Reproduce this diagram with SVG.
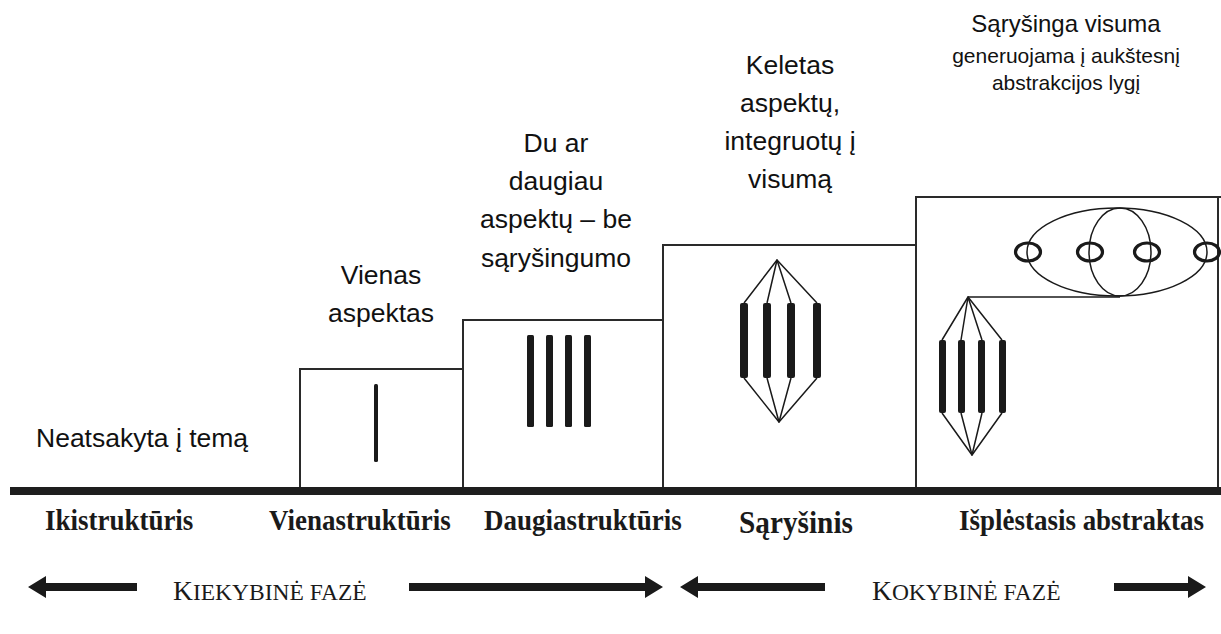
<svg xmlns="http://www.w3.org/2000/svg" width="1221" height="634" viewBox="0 0 1221 634">
  <style>
    .box { fill: #fff; stroke: #2a2a2a; stroke-width: 2; }
    .bar { fill: #1a1a1a; }
    .thin { fill: none; stroke: #1a1a1a; stroke-width: 1.5; stroke-linejoin: round; }
    .oval { fill: none; stroke: #1a1a1a; stroke-width: 3.2; }
    .lbl { font-family: "Liberation Sans", Arial, sans-serif; font-size: 26.5px; fill: #111; text-anchor: middle; }
    .lbl-s { font-family: "Liberation Sans", Arial, sans-serif; font-size: 21px; fill: #111; text-anchor: middle; }
    .stage { font-family: "Liberation Serif", "Times New Roman", serif; font-weight: bold; font-size: 29px; fill: #1a1a1a; }
    .phase { font-family: "Liberation Serif", "Times New Roman", serif; font-size: 23.5px; fill: #1a1a1a; }
    .arrow { fill: #1a1a1a; }
  </style>

  <rect width="1221" height="634" fill="#fff"/>

  <!-- stage 0: no structure -->
  <g id="stage-pre">
    <text class="lbl" x="36" y="447" style="text-anchor:start">Neatsakyta į temą</text>
    <text class="stage" transform="translate(45,530) scale(0.93,1)">Ikistruktūris</text>
  </g>

  <!-- stage 1: one aspect -->
  <g id="stage-uni">
    <polyline class="box" points="300,490 300,369 463,369 463,490"/>
    <rect class="bar" x="374" y="384" width="4" height="78" rx="1.5"/>
    <text class="lbl" x="381" y="284">Vienas</text>
    <text class="lbl" x="381" y="322">aspektas</text>
    <text class="stage" transform="translate(269,530) scale(0.93,1)">Vienastruktūris</text>
  </g>

  <!-- stage 2: several unrelated aspects -->
  <g id="stage-multi">
    <polyline class="box" points="463,490 463,320 663,320 663,490"/>
    <rect class="bar" x="527" y="335" width="7" height="92" rx="1.5"/>
    <rect class="bar" x="546" y="335" width="7" height="92" rx="1.5"/>
    <rect class="bar" x="565" y="335" width="7" height="92" rx="1.5"/>
    <rect class="bar" x="584" y="335" width="7" height="92" rx="1.5"/>
    <text class="lbl" x="556" y="152">Du ar</text>
    <text class="lbl" x="556" y="190">daugiau</text>
    <text class="lbl" x="556" y="228">aspektų – be</text>
    <text class="lbl" x="556" y="267">sąryšingumo</text>
    <text class="stage" transform="translate(484,530) scale(0.93,1)">Daugiastruktūris</text>
  </g>

  <!-- stage 3: aspects integrated into a whole -->
  <g id="stage-relational">
    <polyline class="box" points="663,490 663,245 916,245 916,490"/>
    <rect class="bar" x="740" y="303" width="8" height="75" rx="2"/>
    <rect class="bar" x="763" y="303" width="8" height="75" rx="2"/>
    <rect class="bar" x="787" y="303" width="8" height="75" rx="2"/>
    <rect class="bar" x="813" y="303" width="8" height="75" rx="2"/>
    <text class="lbl" x="790" y="74">Keletas</text>
    <text class="lbl" x="790" y="112">aspektų,</text>
    <text class="lbl" x="790" y="150">integruotų į</text>
    <text class="lbl" x="790" y="188">visumą</text>
    <text class="stage" transform="translate(739,533) scale(0.93,1)" style="font-size:31.5px">Sąryšinis</text>
  </g>

  <!-- stage 4: whole generalised to a higher level -->
  <g id="stage-extended">
    <polyline class="box" points="916,490 916,197 1221,197"/>
    <line class="box" x1="1218" y1="197" x2="1218" y2="490"/>
    <rect class="bar" x="939" y="340" width="7" height="73" rx="2"/>
    <rect class="bar" x="958" y="340" width="7" height="73" rx="2"/>
    <rect class="bar" x="978" y="340" width="7" height="73" rx="2"/>
    <rect class="bar" x="999" y="340" width="7" height="73" rx="2"/>
    <ellipse class="thin" cx="1117" cy="252" rx="90" ry="44"/>
    <ellipse class="thin" cx="1120" cy="252" rx="31" ry="44"/>
    <ellipse class="oval" cx="1028" cy="252" rx="12.5" ry="9"/>
    <ellipse class="oval" cx="1090" cy="252" rx="12.5" ry="9"/>
    <ellipse class="oval" cx="1147" cy="252" rx="12.5" ry="9"/>
    <ellipse class="oval" cx="1207" cy="252" rx="12.5" ry="9"/>
    <text class="lbl" x="1066" y="32" style="font-size:24px">Sąryšinga visuma</text>
    <text class="lbl-s" x="1066" y="63">generuojama į aukštesnį</text>
    <text class="lbl-s" x="1066" y="90">abstrakcijos lygį</text>
    <text class="stage" transform="translate(959,530) scale(0.93,1)">Išplėstasis abstraktas</text>
  </g>

  <!-- fan lines joining the aspect bars -->
  <g id="connectors">
    <polyline class="thin" points="744,303 777,260 817,303"/>
    <polyline class="thin" points="767,303 777,260 791,303"/>
    <polyline class="thin" points="744,378 779,422 817,378"/>
    <polyline class="thin" points="767,378 779,422 791,378"/>
    <polyline class="thin" points="942,340 968,297 1002,340"/>
    <polyline class="thin" points="961,340 968,297 982,340"/>
    <polyline class="thin" points="942,413 972,455 1002,413"/>
    <polyline class="thin" points="961,413 972,455 982,413"/>
    <line class="thin" x1="968" y1="297" x2="1120" y2="297"/>
  </g>

  <!-- ground line -->
  <g id="axis">
    <rect x="10" y="487" width="1211" height="8" fill="#1e1e1e"/>
  </g>

  <!-- phase arrows and captions -->
  <g id="phases">
    <path class="arrow" d="M28,587 L46,576 L46,583 L137,583 L137,591 L46,591 L46,598 Z"/>
    <text class="phase" x="173" y="600"><tspan style="font-size:27.5px">K</tspan>IEKYBINĖ FAZĖ</text>
    <path class="arrow" d="M663,587 L645,576 L645,583 L409,583 L409,591 L645,591 L645,598 Z"/>
    <path class="arrow" d="M680,587 L698,576 L698,583 L825,583 L825,591 L698,591 L698,598 Z"/>
    <text class="phase" x="872" y="600"><tspan style="font-size:27.5px">K</tspan>OKYBINĖ FAZĖ</text>
    <path class="arrow" d="M1206,587 L1188,576 L1188,583 L1114,583 L1114,591 L1188,591 L1188,598 Z"/>
  </g>
</svg>
